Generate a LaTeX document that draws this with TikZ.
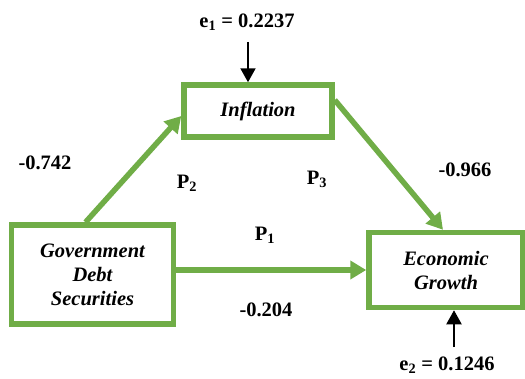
\documentclass[tikz,border=0pt]{standalone}
\usepackage{fontspec}
\setmainfont{Liberation Serif}
\usetikzlibrary{arrows.meta, positioning}
\definecolor{pathgreen}{HTML}{70AD47}

\begin{document}
\begin{tikzpicture}[x=1pt, y=-1pt,
    every node/.style={font=\fontsize{20.5}{24}\selectfont\bfseries},
    varbox/.style={rectangle, draw=pathgreen, line width=5.5pt, fill=white, inner sep=0pt, align=center, font=\fontsize{20.5}{24}\selectfont\bfseries\itshape},
    pathline/.style={line width=5.5pt, color=pathgreen, -{Triangle[length=16pt, width=18pt]}},
    errline/.style={line width=2pt, color=black, -{Triangle[length=14pt, width=15pt]}},
    coef/.style={font=\fontsize{20.5}{24}\selectfont\bfseries}
]
\useasboundingbox (0,0) rectangle (525,378);

\node[varbox, minimum width=162pt, minimum height=99pt] (gov) at (92.5,274.5) {Government\\Debt\\Securities};
\node[varbox, minimum width=148pt, minimum height=52pt] (infl) at (258,111) {Inflation};
\node[varbox, minimum width=154pt, minimum height=75pt] (econ) at (446,270) {Economic\\Growth};

\draw[pathline] ([xshift=-7pt]gov.north) -- ([yshift=-5pt]infl.west);
\draw[pathline] ([yshift=11pt]infl.east) -- ([xshift=-3pt]econ.north);
\draw[pathline] (gov.east |- econ.west) -- (econ.west);

% error terms
\node (e1) at (247,22) {e\textsubscript{1} = 0.2237};
\node (e2) at (447,365) {e\textsubscript{2} = 0.1246};
\draw[errline, shorten <=8pt] ([xshift=1pt]e1.south) -- ([xshift=1pt]e1.south |- infl.north);
\draw[errline, shorten <=6pt] ([xshift=7pt]e2.north) -- ([xshift=7pt]e2.north |- econ.south);

\node[coef] (c2) at (45,163) {-0.742};
\node[coef] (p2) at (187,183) {P\textsubscript{2}};
\node[coef] (p3) at (317,179) {P\textsubscript{3}};
\node[coef] (c3) at (465,170) {-0.966};
\node[coef] (p1) at (265,235) {P\textsubscript{1}};
\node[coef] (c1) at (266,310) {-0.204};

\end{tikzpicture}
\end{document}
